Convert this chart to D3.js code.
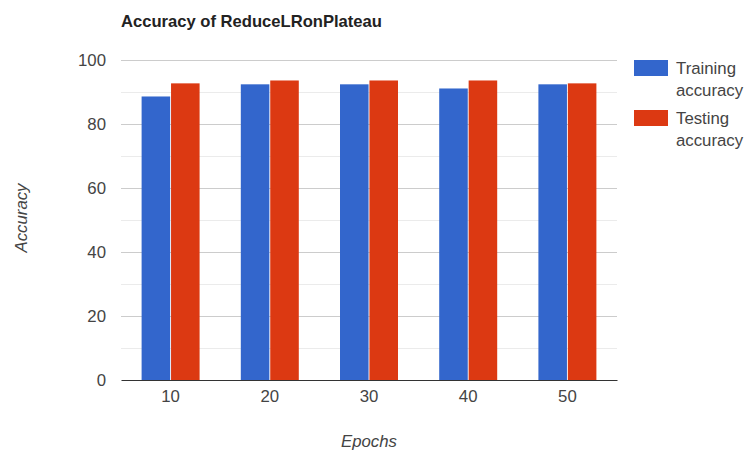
<!DOCTYPE html>
<html>
<head>
<meta charset="utf-8">
<script src="https://cdn.jsdelivr.net/npm/d3@7"></script>
<style>
  html, body { margin: 0; padding: 0; background: #fff; }
  svg { display: block; font-family: Arial, "Liberation Sans", sans-serif; }
</style>
</head>
<body>
<svg id="chart" width="745" height="453"></svg>
<script>
// Accuracy per number of training epochs
const epochs = ["10", "20", "30", "40", "50"];
const trainingAccuracy = [88.6, 92.4, 92.4, 91.1, 92.4];
const testingAccuracy = [92.7, 93.6, 93.6, 93.6, 92.7];
const seriesNames = ["Training accuracy", "Testing accuracy"];
const seriesColors = ["#3366cc", "#dc3912"];
const yTicks = [0, 20, 40, 60, 80, 100];
const yMinorTicks = [10, 30, 50, 70, 90];

const FONT = "Arial, 'Liberation Sans', sans-serif";
const LABEL_SIZE = 16.8;
const svg = d3.select("#chart");
const plot = { left: 121, right: 617, top: 60, bottom: 380 };

const x = d3.scaleBand().domain(epochs).range([plot.left, plot.right])
  .paddingInner(0).paddingOuter(0);
const inner = d3.scaleBand().domain([0, 1])
  .range([0, x.bandwidth()]).paddingOuter(0.7).paddingInner(0.03);
const y = d3.scaleLinear().domain([0, 100]).range([plot.bottom, plot.top]);

// Title
svg.append("text")
  .attr("x", 121).attr("y", 27)
  .attr("font-size", 16.6).attr("font-weight", "bold").attr("fill", "#222")
  .text("Accuracy of ReduceLRonPlateau");

// Gridlines
svg.append("g").selectAll("line").data(yMinorTicks).join("line")
  .attr("x1", plot.left).attr("x2", plot.right)
  .attr("y1", d => Math.round(y(d)) + 0.5).attr("y2", d => Math.round(y(d)) + 0.5)
  .attr("stroke", "#ebebeb");
svg.append("g").selectAll("line").data(yTicks.filter(d => d > 0)).join("line")
  .attr("x1", plot.left).attr("x2", plot.right)
  .attr("y1", d => Math.round(y(d)) + 0.5).attr("y2", d => Math.round(y(d)) + 0.5)
  .attr("stroke", "#cccccc");

// Y axis labels
const yAxis = svg.append("g")
  .attr("transform", `translate(${plot.left},0)`)
  .call(d3.axisLeft(y).tickValues(yTicks).tickSize(0).tickPadding(15));
yAxis.select(".domain").remove();
yAxis.selectAll("text").attr("font-size", LABEL_SIZE).attr("fill", "#444")
  .attr("font-family", FONT);

// Bars
const groups = svg.append("g").selectAll("g").data(epochs).join("g")
  .attr("transform", d => `translate(${x(d)},0)`);
groups.selectAll("rect")
  .data((d, i) => [trainingAccuracy[i], testingAccuracy[i]])
  .join("rect")
  .attr("x", (d, j) => inner(j))
  .attr("width", inner.bandwidth())
  .attr("y", d => y(d))
  .attr("height", d => y(0) - y(d))
  .attr("fill", (d, j) => seriesColors[j]);

// Baseline and x axis labels
const xAxis = svg.append("g")
  .attr("transform", `translate(0,${plot.bottom})`)
  .call(d3.axisBottom(x).tickSize(0).tickPadding(10));
xAxis.select(".domain").attr("stroke", "#333").attr("stroke-width", 1.2);
xAxis.selectAll("text").attr("font-size", LABEL_SIZE).attr("fill", "#444")
  .attr("font-family", FONT);

// Axis titles
svg.append("text")
  .attr("x", 369).attr("y", 447)
  .attr("text-anchor", "middle").attr("font-size", LABEL_SIZE)
  .attr("font-style", "italic").attr("fill", "#444")
  .text("Epochs");
svg.append("text")
  .attr("transform", `translate(27,218) rotate(-90)`)
  .attr("text-anchor", "middle").attr("font-size", LABEL_SIZE)
  .attr("font-style", "italic").attr("fill", "#444")
  .text("Accuracy");

// Legend
const legend = svg.append("g").selectAll("g").data(seriesNames).join("g")
  .attr("transform", (d, i) => `translate(634,${60 + i * 50})`);
legend.append("rect")
  .attr("width", 34).attr("height", 16)
  .attr("fill", (d, i) => seriesColors[i]);
legend.each(function (d) {
  const words = d.split(" ");
  const t = d3.select(this).append("text")
    .attr("x", 42).attr("y", 14).attr("font-size", LABEL_SIZE).attr("fill", "#444");
  words.forEach((w, k) => t.append("tspan").attr("x", 42).attr("dy", k === 0 ? 0 : 22).text(w));
});
</script>
</body>
</html>
